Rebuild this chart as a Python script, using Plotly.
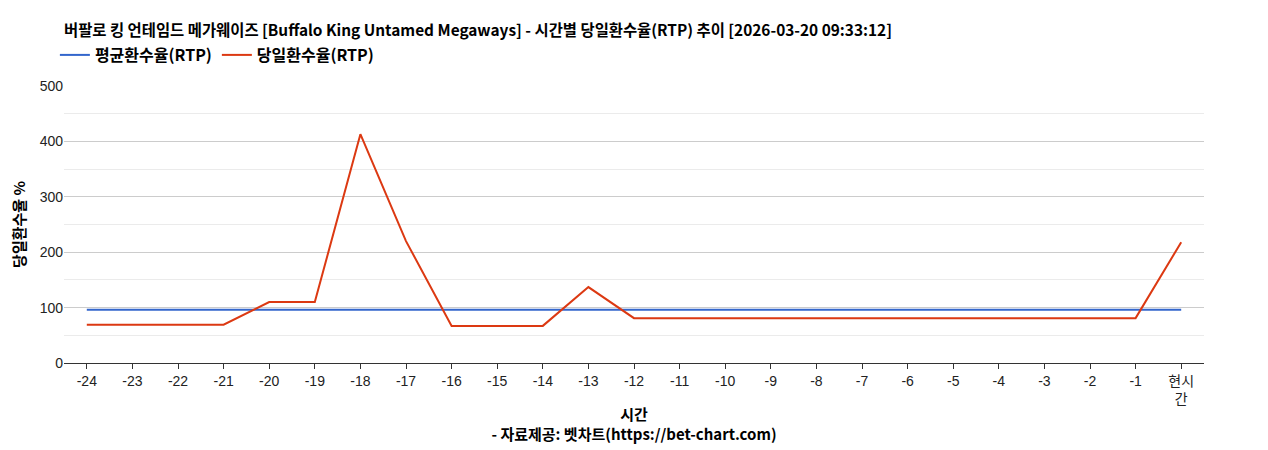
import plotly.graph_objects as go

# 시간 축 (24시간 전 ~ 현재)
hours = [str(h) for h in range(-24, 0)] + ["현시<br>간"]
avg_rtp = [96] * 25
day_rtp = [69, 69, 69, 69, 110, 110, 413, 220, 67, 67, 67, 137, 81,
           81, 81, 81, 81, 81, 81, 81, 81, 81, 81, 81, 218]

FONT = "Liberation Sans, Noto Sans CJK KR, Arial, sans-serif"
BOLD = "Noto Sans CJK KR, sans-serif"

fig = go.Figure()
fig.add_trace(go.Scatter(x=hours, y=avg_rtp, mode="lines", name="<b>평균환수율(RTP)</b>",
                         line=dict(color="#3366cc", width=2)))
fig.add_trace(go.Scatter(x=hours, y=day_rtp, mode="lines", name="<b>당일환수율(RTP)</b>",
                         line=dict(color="#dc3912", width=2)))

fig.update_layout(
    width=1268, height=450,
    paper_bgcolor="white", plot_bgcolor="white",
    font=dict(family=FONT, size=14, color="#222"),
    margin=dict(l=56, r=72, t=78, b=95, autoexpand=False),
    title=dict(text="<b>버팔로 킹 언테임드 메가웨이즈 [Buffalo King Untamed Megaways] - 시간별 당일환수율(RTP) 추이 [2026-03-20 09:33:12]</b>",
               x=56 / 1268, xref="container", xanchor="left",
               y=1 - 23 / 450, yref="container", yanchor="middle",
               font=dict(family=BOLD, size=15.4, color="#000")),
    legend=dict(orientation="h", x=-0.008, y=(363 - 55) / 277, xanchor="left", yanchor="middle",
                font=dict(family=BOLD, size=16, color="#000"), itemwidth=30),
    showlegend=True,
)
fig.update_xaxes(showgrid=False, showline=True, linecolor="#333", ticks="outside",
                 ticklen=5, tickcolor="#333", range=[-0.5, 24.5], automargin=False,
                 title=dict(text="<b>시간</b><br><b>- 자료제공: 벳차트(https://bet-chart.com)</b>",
                            font=dict(family=BOLD, size=15, color="#000"), standoff=3),
                 tickfont=dict(size=14, color="#222"))
fig.update_yaxes(range=[0, 500], dtick=100, showgrid=True, gridcolor="#cccccc",
                 minor=dict(dtick=50, showgrid=True, gridcolor="#ebebeb"),
                 zeroline=False, showline=False, automargin=False,
                 title=dict(text="<b>당일환수율 %</b>", font=dict(family=BOLD, size=15, color="#000"), standoff=13),
                 tickfont=dict(size=14, color="#222"))

fig.write_html("out.html")
